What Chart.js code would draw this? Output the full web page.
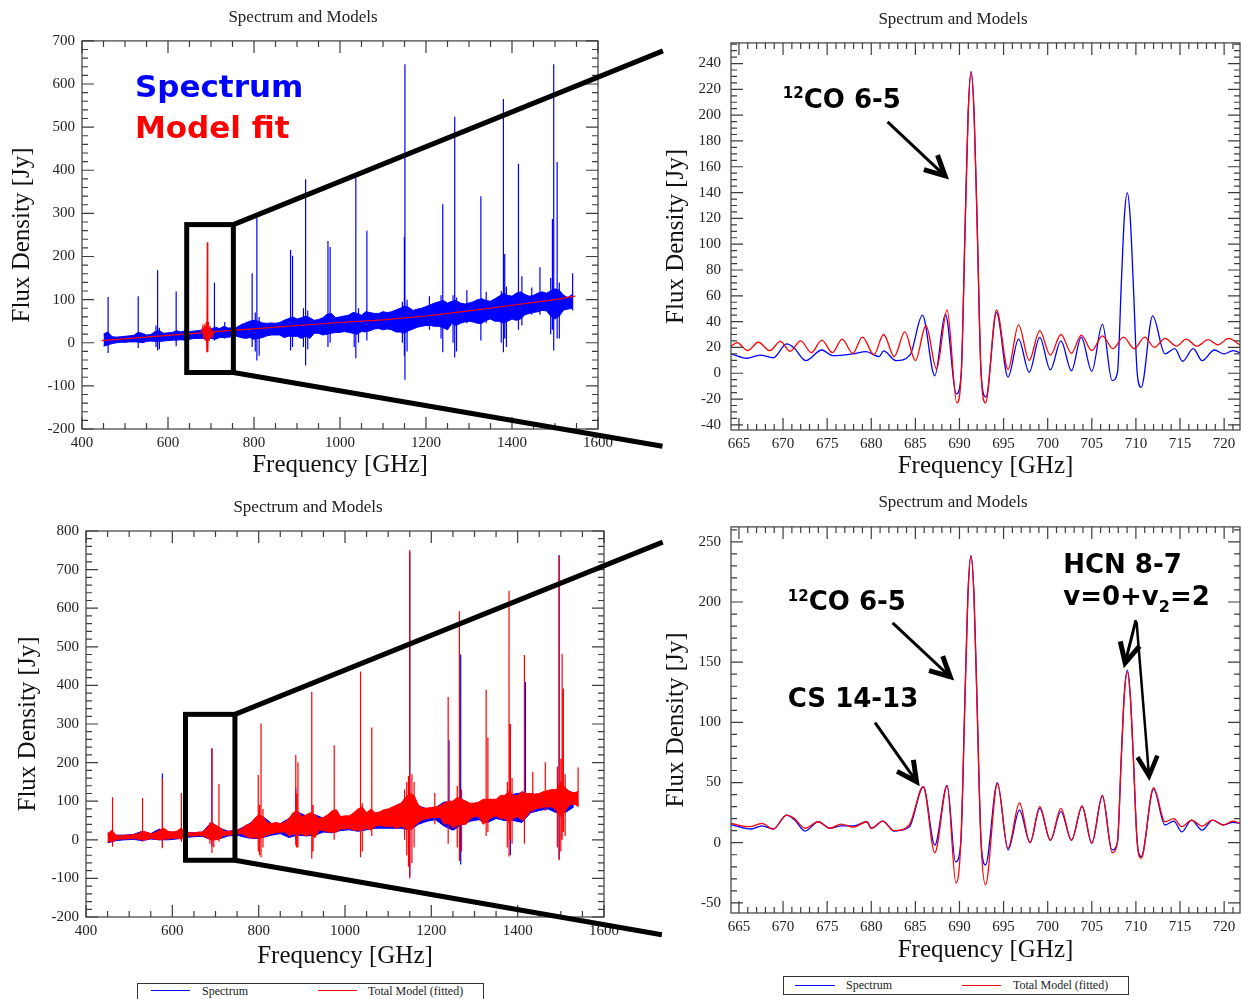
<!DOCTYPE html>
<html>
<head>
<meta charset="utf-8">
<title>Spectrum and Models</title>
<script src="https://cdn.jsdelivr.net/npm/chart.js@4.4.1/dist/chart.umd.min.js"></script>
<style>
  body { margin: 0; background: #fff; }
  #figure { position: relative; width: 1241px; height: 999px; overflow: hidden; background: #fff; }
  #figure canvas { position: absolute; }
  .legend { position: absolute; box-sizing: border-box; border: 1.5px solid #333; background: #fff;
            font: 12px "Liberation Serif", "Times New Roman", serif; color: #222; }
  .legend span { position: absolute; white-space: nowrap; line-height: 14px; }
  .legend i { position: absolute; height: 1px; }
</style>
</head>
<body>
<div id="figure">
  <canvas id="topLeft" width="620" height="480" style="left:0;top:0"></canvas>
  <canvas id="topRight" width="581" height="480" style="left:660px;top:0"></canvas>
  <canvas id="bottomLeft" width="630" height="480" style="left:0;top:490px"></canvas>
  <canvas id="bottomRight" width="581" height="480" style="left:660px;top:490px"></canvas>
  <canvas id="leads" width="1241" height="999" style="left:0;top:0;pointer-events:none"></canvas>

  <div class="legend" style="left:137px;top:983px;width:347px;height:24px">
    <i style="left:12.5px;top:5.5px;width:39px;background:#0000ff"></i>
    <span style="left:64px;top:0">Spectrum</span>
    <i style="left:179.5px;top:5.5px;width:39px;background:#ff0000"></i>
    <span style="left:230px;top:0">Total Model (fitted)</span>
  </div>
  <div class="legend" style="left:783px;top:976px;width:346px;height:19px">
    <i style="left:10.5px;top:7.5px;width:40px;background:#0000ff"></i>
    <span style="left:62px;top:1px">Spectrum</span>
    <i style="left:177.5px;top:7.5px;width:39px;background:#ff0000"></i>
    <span style="left:229px;top:1px">Total Model (fitted)</span>
  </div>
</div>

<script>
const BLUE = '#0000ff';
const RED = '#ff0000';
const SERIF = '"Liberation Serif", "Times New Roman", serif';

// ---- full band, spectrum as seen by the first pass (10 GHz bins from 450 GHz) ----
const tlSpecHi = [
  20, 25, 14, 13, 14, 15, 16, 17, 24, 22,
  18, 19, 26, 28, 22, 23, 24, 28, 25, 28,
  26, 27, 28, 30, 40, 32, 36, 33, 38, 34,
  35, 36, 42, 46, 50, 52, 50, 46, 45, 46,
  45, 47, 52, 56, 60, 55, 58, 62, 58, 52,
  54, 58, 66, 68, 58, 60, 62, 64, 70, 68,
  64, 72, 70, 68, 68, 72, 70, 72, 76, 80,
  85, 82, 75, 78, 80, 84, 88, 92, 95, 98,
  92, 96, 98, 92, 90, 92, 95, 100, 102, 98,
  96, 102, 108, 115, 110, 108, 115, 118, 112, 108,
  110, 115, 118, 115, 120, 125, 122, 110, 105, 112
];
const tlSpecLo = [
  -8, -5, -2, 0, 1, 1, 2, 2, 2, 0,
  3, 4, 3, 3, 4, 5, 6, 6, 7, 6,
  8, 10, 10, 10, 8, 10, 8, 12, 12, 13,
  14, 15, 12, 10, 12, 8, 10, 12, 16, 18,
  18, 18, 12, 15, 15, 15, 10, 15, 10, 22,
  22, 18, 20, 22, 24, 24, 26, 24, 22, 20,
  26, 25, 28, 32, 33, 30, 32, 30, 25, 25,
  22, 28, 32, 36, 38, 40, 40, 38, 38, 35,
  30, 45, 40, 45, 48, 50, 48, 45, 45, 52,
  55, 50, 50, 45, 50, 55, 52, 55, 65, 68,
  70, 72, 75, 74, 62, 55, 62, 76, 78, 80
];
const tlBinFreq = tlSpecHi.map((_, i) => 450 + 10 * i);
// emission lines and their ringing: [frequency, lowest, highest]
const tlSpecLines = [
  [460.7, -24, 106], [530.7, -12, 108], [572, -10, 40], [575.8, -18, 168], [580, -15, 35],
  [619, -8, 119], [708, 5, 140], [732, 10, 48], [795.7, -10, 161], [803, -20, 70],
  [806.7, -41, 290], [812, -30, 60], [885, -18, 215], [889.6, -10, 202], [915, -10, 80],
  [920, -53, 379], [925, -15, 75], [972, -10, 236], [977, 0, 222], [1033, -10, 70],
  [1036.8, -36, 384], [1043, 0, 80], [1062.5, 5, 260], [1145, 0, 95], [1149.7, -30, 245],
  [1151, -86, 646], [1156, -20, 100], [1208, 30, 108], [1235, 10, 110], [1239, -22, 321],
  [1263, 0, 110], [1266.8, -34, 524], [1271, -20, 105], [1295, 45, 122], [1327.6, 5, 340],
  [1340, 45, 118], [1375, 0, 120], [1380, -22, 565], [1383, 10, 206], [1387, -10, 130],
  [1415, 30, 415], [1423, 40, 154], [1446, 65, 128], [1465, 65, 175], [1490, 20, 150],
  [1494, 30, 287], [1497, -18, 646], [1505, 10, 419], [1510, 10, 140], [1541, 75, 161]
];
// continuum + CO 6-5 model
const tlModel = [
  [446, 5], [600, 17], [678, 23], [681, 38], [683, 10], [685, 42], [687, 5], [689, 48],
  [690.5, -22], [691.5, 233], [692.5, -22], [694, 48], [696, 5], [698, 38], [700, 12],
  [702, 32], [704, 18], [707, 26], [800, 32], [900, 40], [1000, 47], [1100, 53],
  [1200, 62], [1300, 74], [1400, 87], [1500, 100], [1547, 108]
];

// ---- full band, final fit (10 GHz bins from 450 GHz) ----
const blModelHi = [
  15, 25, 12, 10, 12, 12, 14, 15, 22, 20,
  16, 18, 25, 30, 22, 20, 22, 30, 22, 18,
  18, 20, 20, 30, 45, 38, 32, 22, 22, 24,
  26, 28, 38, 40, 55, 65, 60, 45, 42, 45,
  42, 45, 55, 70, 75, 60, 65, 70, 65, 55,
  58, 65, 75, 78, 60, 62, 62, 70, 80, 85,
  70, 80, 70, 72, 78, 80, 85, 90, 95, 110,
  120, 115, 90, 82, 82, 84, 85, 88, 95, 100,
  100, 110, 105, 100, 95, 95, 98, 105, 105, 105,
  105, 115, 115, 125, 115, 115, 125, 120, 120, 118,
  120, 125, 128, 130, 130, 150, 135, 125, 122, 125
];
const blModelLo = [
  -5, -5, 0, 2, 2, 3, 3, 2, 0, 0,
  4, 2, 0, 2, 2, 4, 4, 2, 8, 10,
  10, 11, 11, 5, 0, 0, 2, 12, 12, 14,
  15, 16, 10, 5, 5, 5, 8, 12, 16, 18,
  20, 20, 10, 15, 15, 15, 10, 15, 5, 25,
  25, 20, 20, 20, 28, 28, 30, 25, 25, 25,
  30, 25, 35, 38, 35, 35, 35, 30, 35, 30,
  25, 35, 45, 52, 55, 57, 58, 58, 40, 45,
  30, 40, 40, 40, 55, 60, 60, 40, 50, 58,
  62, 55, 55, 45, 55, 60, 50, 60, 75, 80,
  82, 85, 85, 85, 75, 60, 75, 90, 92, 88
];
const blModelFreq = blModelHi.map((_, i) => 450 + 10 * i);
const blModelLines = [
  [461.5, -18, 110], [531, -5, 108], [577, -22, 159], [621, -5, 121], [687, -10, 45],
  [691.7, -34, 238], [696, -20, 40], [708, -5, 144], [799, -30, 168], [802, -40, 90],
  [805.5, -45, 301], [810, -20, 80], [886, -15, 220], [888, -20, 120], [891, -20, 201],
  [923, -49, 383], [926, -30, 90], [975, 0, 245], [1036, -45, 436], [1040, -30, 95],
  [1062, 10, 291], [1138, 0, 130], [1143, -40, 150], [1147, -70, 165], [1150, -100, 751],
  [1155, -60, 170], [1160, -20, 150], [1208, 40, 121], [1239, -10, 370], [1260, -20, 140],
  [1265, -55, 592], [1270, -30, 130], [1327, 10, 389], [1331, 20, 265], [1376, -20, 150],
  [1380, -43, 645], [1383, 0, 300], [1387, -10, 160], [1415.6, -10, 479], [1435, 70, 176],
  [1464, 75, 201], [1492, -20, 190], [1496, -53, 735], [1500, -30, 210], [1503, 0, 482],
  [1506, 20, 392], [1510, 10, 170], [1540, 85, 187]
];
// observed spectrum under the fit (20 GHz bins from 450 GHz)
const blSpecHi = [
  18, 12, 12, 14, 22, 16, 28, 20, 20, 20,
  18, 20, 45, 30, 22, 25, 36, 50, 60, 42,
  42, 55, 72, 62, 65, 56, 70, 60, 60, 75,
  70, 68, 75, 82, 95, 118, 88, 80, 84, 98,
  98, 105, 92, 96, 105, 102, 115, 118, 122, 118,
  118, 126, 128, 132, 120
];
const blSpecLo = [
  -8, -2, 0, 1, -2, 2, 0, 0, 2, 6,
  8, 9, 0, 3, 10, 12, 6, 3, 6, 12,
  16, 6, 12, 10, 12, 20, 18, 24, 26, 22,
  26, 30, 30, 30, 30, 25, 40, 48, 52, 35,
  25, 38, 48, 52, 45, 55, 50, 50, 45, 70,
  76, 80, 70, 70, 85
];
const blSpecFreq = blSpecHi.map((_, i) => 450 + 20 * i);
const blSpecLines = [
  [577, -20, 172], [691.7, -16, 236], [886, 0, 133], [1150, -95, 745], [1241, 40, 258],
  [1268, -64, 480], [1383, -40, 300], [1418, 60, 409], [1496, -50, 738]
];

// ---- 664-722 GHz close-up, CO-only model ----
const trModel = [
  [664.1, 21], [664.8, 23.7], [666.0, 17.5], [667.2, 24], [668.5, 17.5], [669.7, 24.7],
  [670.8, 17], [672.0, 25], [673.2, 16], [674.4, 25.7], [675.6, 16], [676.7, 26.5],
  [677.9, 15.4], [679.0, 28], [680.3, 14.4], [681.4, 30], [682.6, 12.9], [683.8, 32],
  [685.0, 9.8], [686.2, 37], [687.4, 3.3], [688.6, 49], [689.7, -23], [690.2, 0],
  [690.65, 116], [690.98, 200], [691.32, 233], [691.66, 200], [692.0, 116], [692.45, 0],
  [692.95, -23], [694.2, 49], [695.5, 3], [696.7, 37.5], [697.9, 10], [699.1, 33],
  [700.3, 14], [701.5, 30], [702.7, 15.5], [703.8, 29.6], [705.0, 17.5], [706.2, 29],
  [707.4, 19], [708.6, 28], [709.8, 19], [711.0, 28], [712.1, 20], [713.3, 27],
  [714.6, 21], [715.7, 26.5], [716.9, 21], [718.2, 26], [719.3, 22], [720.5, 27], [721.8, 22]
];
const trSpectrum = [
  [664.1, 15], [665.9, 11.6], [667.4, 14], [668.9, 12], [670.4, 22.7], [671.2, 20],
  [672.6, 9.8], [674.4, 18], [675.6, 13.6], [677.9, 15], [679.4, 16.7], [680.9, 12.9],
  [681.4, 17.3], [682.8, 9.8], [684.4, 14.2], [685.8, 45], [687.2, -2], [688.4, 45.8],
  [689.65, -16], [690.2, 0], [690.65, 117], [690.98, 201], [691.32, 234], [691.66, 201],
  [692.0, 117], [692.45, 0], [693.0, -18.5], [694.2, 47], [695.5, -3], [696.7, 26.5],
  [697.9, 0.8], [699.1, 27.8], [700.3, 2.6], [701.5, 25], [702.7, 2], [703.8, 28],
  [705.0, 1.5], [706.2, 38], [707.3, -5.7], [707.9, 0], [708.35, 70], [708.68, 120],
  [709.02, 140], [709.36, 120], [709.7, 70], [710.15, 0], [710.6, -11], [711.9, 44.5],
  [713.3, 15], [714.4, 19], [715.3, 9.3], [716.5, 19], [717.5, 9.8], [718.9, 18],
  [720.0, 15], [721.0, 17.5], [721.8, 16]
];

// ---- 664-722 GHz close-up, total model ----
const brModel = [
  [664.1, 16], [666.2, 13.3], [667.6, 16], [668.9, 11.4], [670.4, 23], [671.3, 20],
  [672.5, 12], [674.0, 17.4], [675.3, 12], [676.6, 15.5], [678.0, 13], [679.5, 17.4],
  [680.0, 12], [681.3, 18], [682.6, 10], [684.3, 14.7], [685.9, 46.5], [687.2, -8.3],
  [688.6, 47], [689.6, -33.5], [690.15, 0], [690.62, 118], [690.95, 204], [691.3, 238],
  [691.65, 204], [691.98, 118], [692.45, 0], [692.95, -35], [694.3, 49], [695.5, -4.7],
  [696.8, 33], [698.0, 0], [699.1, 30], [700.3, 2], [701.5, 28.5], [702.7, 2],
  [703.9, 30.5], [705.0, -0.5], [706.2, 39.6], [707.3, -8.3], [707.9, 0], [708.35, 72],
  [708.68, 122], [709.02, 142], [709.36, 122], [709.7, 72], [710.15, 0], [710.6, -13],
  [712.0, 45.7], [713.3, 17.4], [714.3, 20], [715.2, 13.3], [716.3, 18.8], [717.5, 13.8],
  [718.7, 18.8], [719.9, 14.7], [721.0, 18], [721.8, 16]
];
const brSpectrum = [
  [664.1, 15], [666.4, 11.4], [667.6, 14], [668.9, 11.4], [670.4, 23], [671.3, 19],
  [672.5, 9.7], [674.0, 17.4], [675.3, 12], [676.6, 14], [678.0, 14], [679.5, 17.4],
  [680.0, 12], [681.3, 18], [682.6, 9.7], [684.3, 13], [685.9, 46.5], [687.2, -2],
  [688.6, 47.6], [689.55, -16], [690.15, 0], [690.62, 120], [690.95, 205], [691.3, 238.7],
  [691.65, 205], [691.98, 120], [692.45, 0], [692.95, -18.5], [694.3, 50], [695.5, -6],
  [696.8, 27], [698.0, 0], [699.1, 28.5], [700.3, 2], [701.5, 26], [702.7, 2],
  [703.9, 30], [705.0, -0.5], [706.2, 38.8], [707.3, -6], [707.9, 0], [708.35, 72],
  [708.68, 123], [709.02, 143.4], [709.36, 123], [709.7, 72], [710.15, 0], [710.6, -11.6],
  [712.0, 44.6], [713.3, 14.7], [714.3, 18], [715.2, 9], [716.3, 18.8], [717.5, 10.5],
  [718.7, 18.8], [719.9, 14.7], [721.0, 17], [721.8, 16]
];

// tick label values
const wideFreqTicks = [400, 600, 800, 1000, 1200, 1400, 1600];
const tlFluxTicks = [-200, -100, 0, 100, 200, 300, 400, 500, 600, 700];
const blFluxTicks = [-200, -100, 0, 100, 200, 300, 400, 500, 600, 700, 800];
const zoomFreqTicks = [665, 670, 675, 680, 685, 690, 695, 700, 705, 710, 715, 720];
const trFluxTicks = [-40, -20, 0, 20, 40, 60, 80, 100, 120, 140, 160, 180, 200, 220, 240];
const brFluxTicks = [-50, 0, 50, 100, 150, 200, 250];

const pts = list => list.map(([x, y]) => ({x, y}));
const band = (freq, vals) => freq.map((f, i) => ({x: f, y: vals[i]}));
// each line becomes a vertical stroke between its lowest and highest sample
function strokes(list) {
  const out = [];
  list.forEach(([f, low, high]) => out.push({x: f, y: low}, {x: f, y: high}, {x: f, y: null}));
  return out;
}

function drawArrow(ctx, x1, y1, x2, y2, w) {
  const ang = Math.atan2(y2 - y1, x2 - x1);
  const head = 22, spread = 0.47;
  ctx.strokeStyle = '#000';
  ctx.lineWidth = w;
  ctx.lineCap = 'butt';
  ctx.beginPath();
  ctx.moveTo(x1, y1);
  ctx.lineTo(x2, y2);
  ctx.stroke();
  ctx.lineWidth = w + 2;
  ctx.lineJoin = 'miter';
  ctx.beginPath();
  ctx.moveTo(x2 - head * Math.cos(ang - spread), y2 - head * Math.sin(ang - spread));
  ctx.lineTo(x2, y2);
  ctx.lineTo(x2 - head * Math.cos(ang + spread), y2 - head * Math.sin(ang + spread));
  ctx.stroke();
}

// box frame with inward ticks on all four sides
const frameTicks = {
  id: 'frameTicks',
  afterDatasetsDraw(chart, args, opts) {
    const {ctx, chartArea: a, scales: {x, y}} = chart;
    const isMajor = (v, step) => Math.abs(v / step - Math.round(v / step)) < 1e-6;
    ctx.save();
    ctx.strokeStyle = '#3c3c3c';
    ctx.lineWidth = 1.2;
    ctx.strokeRect(a.left, a.top, a.right - a.left, a.bottom - a.top);
    ctx.beginPath();
    const x0 = Math.ceil(x.min / opts.xMinor - 1e-9);
    for (let i = x0; i * opts.xMinor <= x.max + 1e-9; i++) {
      const v = i * opts.xMinor, px = x.getPixelForValue(v);
      const len = isMajor(v, opts.xMajor) ? 12 : 6;
      ctx.moveTo(px, a.bottom); ctx.lineTo(px, a.bottom - len);
      ctx.moveTo(px, a.top); ctx.lineTo(px, a.top + len);
    }
    const y0 = Math.ceil(y.min / opts.yMinor - 1e-9);
    for (let i = y0; i * opts.yMinor <= y.max + 1e-9; i++) {
      const v = i * opts.yMinor, py = y.getPixelForValue(v);
      const len = isMajor(v, opts.yMajor) ? 12 : 6;
      ctx.moveTo(a.left, py); ctx.lineTo(a.left + len, py);
      ctx.moveTo(a.right, py); ctx.lineTo(a.right - len, py);
    }
    ctx.stroke();
    ctx.restore();
  }
};

// line identifications and arrows, placed in data coordinates
const notes = {
  id: 'notes',
  afterDatasetsDraw(chart, args, opts) {
    const {ctx, scales: {x, y}} = chart;
    ctx.save();
    (opts.arrows || []).forEach(a => drawArrow(ctx,
      x.getPixelForValue(a.from[0]), y.getPixelForValue(a.from[1]),
      x.getPixelForValue(a.to[0]), y.getPixelForValue(a.to[1]), a.width || 3));
    (opts.labels || []).forEach(l => {
      let px = x.getPixelForValue(l.at[0]);
      const py = y.getPixelForValue(l.at[1]);
      ctx.fillStyle = l.color || '#000';
      ctx.textBaseline = 'alphabetic';
      ctx.textAlign = 'left';
      l.parts.forEach(p => {
        ctx.font = 'bold ' + p.size + 'px "DejaVu Sans", sans-serif';
        ctx.fillText(p.text, px, py + (p.dy || 0));
        px += ctx.measureText(p.text).width;
      });
    });
    ctx.restore();
  }
};

// zoom box and the two leader lines towards the close-up panel
const zoomLeads = {
  id: 'zoomLeads',
  afterDraw(chart, args, opts) {
    const {x, y} = chart.scales;
    const ox = chart.canvas.offsetLeft, oy = chart.canvas.offsetTop;
    const px = v => ox + x.getPixelForValue(v);
    const py = v => oy + y.getPixelForValue(v);
    const ctx = document.getElementById('leads').getContext('2d');
    const [f0, f1] = opts.freq, [v0, v1] = opts.flux;
    ctx.save();
    ctx.strokeStyle = '#000';
    ctx.lineWidth = 5;
    ctx.lineJoin = 'miter';
    ctx.strokeRect(px(f0), py(v1), px(f1) - px(f0), py(v0) - py(v1));
    ctx.beginPath();
    ctx.moveTo(px(f1), py(v1)); ctx.lineTo(px(opts.ends[0][0]), py(opts.ends[0][1]));
    ctx.moveTo(px(f1), py(v0)); ctx.lineTo(px(opts.ends[1][0]), py(opts.ends[1][1]));
    ctx.stroke();
    ctx.restore();
  }
};

function panel(id, o) {
  return new Chart(document.getElementById(id), {
    type: 'line',
    data: { datasets: o.datasets },
    options: {
      responsive: false,
      animation: false,
      events: [],
      layout: { padding: o.padding },
      elements: { point: { radius: 0 }, line: { borderWidth: 1.2 } },
      plugins: {
        legend: { display: false },
        tooltip: { enabled: false },
        title: {
          display: true, text: 'Spectrum and Models', color: '#222',
          font: { family: SERIF, size: 17, weight: 'normal', lineHeight: 1.2 },
          padding: o.titlePad
        },
        frameTicks: o.ticks,
        notes: o.notes,
        zoomLeads: o.leads
      },
      scales: {
        x: {
          type: 'linear', min: o.xRange[0], max: o.xRange[1],
          grid: { display: false, drawTicks: false }, border: { display: false },
          ticks: { font: { family: SERIF, size: 15 }, color: '#222', padding: 5,
                   maxRotation: 0, autoSkip: false, callback: v => String(v) },
          afterBuildTicks: s => { s.ticks = o.xTicks.map(v => ({value: v})); },
          afterFit: s => { s.height = o.xAxisH; },
          title: { display: true, text: 'Frequency [GHz]', color: '#111',
                   font: { family: SERIF, size: 25, lineHeight: 1 },
                   padding: { top: 0, bottom: o.xTitlePad } }
        },
        y: {
          type: 'linear', min: o.yRange[0], max: o.yRange[1],
          grid: { display: false, drawTicks: false }, border: { display: false },
          ticks: { font: { family: SERIF, size: 15 }, color: '#222', padding: o.yTickPad,
                   autoSkip: false, callback: v => String(v) },
          afterBuildTicks: s => { s.ticks = o.yTicks.map(v => ({value: v})); },
          afterFit: s => { s.width = o.yAxisW; },
          title: { display: true, text: 'Flux Density [Jy]', color: '#111',
                   font: { family: SERIF, size: 25, lineHeight: 0.85 },
                   padding: { top: o.yTitlePad, bottom: 0 } }
        }
      }
    },
    plugins: o.leads ? [frameTicks, notes, zoomLeads] : [frameTicks, notes]
  });
}

const wideTicks = { xMajor: 200, xMinor: 50, yMajor: 100, yMinor: 20 };

panel('topLeft', {
  padding: { left: 8, right: 22, top: 0, bottom: 0 },
  titlePad: { top: 7.5, bottom: 13 },
  xRange: [400, 1600], yRange: [-200, 700],
  xTicks: wideFreqTicks, yTicks: tlFluxTicks,
  xAxisH: 51, yAxisW: 74, xTitlePad: 2.5, yTitlePad: 4, yTickPad: 7,
  ticks: wideTicks,
  datasets: [
    { data: band(tlBinFreq, tlSpecHi), borderColor: BLUE, backgroundColor: BLUE, borderWidth: 1, fill: '+1', order: 3 },
    { data: band(tlBinFreq, tlSpecLo), borderColor: BLUE, borderWidth: 1, fill: false, order: 3 },
    { data: strokes(tlSpecLines), borderColor: BLUE, borderWidth: 1.2, fill: false, order: 2 },
    { data: pts(tlModel), borderColor: RED, borderWidth: 1.2, fill: false, order: 1 }
  ],
  notes: {
    labels: [
      { at: [523, 570], color: BLUE, parts: [{ text: 'Spectrum', size: 31 }] },
      { at: [523, 474], color: RED, parts: [{ text: 'Model fit', size: 31 }] }
    ]
  },
  leads: { freq: [643.5, 752], flux: [-69, 274], ends: [[1751, 677], [1750, -240]] }
});

panel('topRight', {
  padding: { left: 6, right: 1, top: 0, bottom: 0 },
  titlePad: { top: 9.5, bottom: 13 },
  xRange: [664.1, 721.8], yRange: [-44, 256],
  xTicks: zoomFreqTicks, yTicks: trFluxTicks,
  xAxisH: 50, yAxisW: 65, xTitlePad: 1.5, yTitlePad: 0, yTickPad: 10,
  ticks: { xMajor: 5, xMinor: 1, yMajor: 20, yMinor: 5 },
  datasets: [
    { data: pts(trModel), borderColor: RED, borderWidth: 1.3, cubicInterpolationMode: 'monotone', order: 1 },
    { data: pts(trSpectrum), borderColor: BLUE, borderWidth: 1.3, cubicInterpolationMode: 'monotone', order: 2 }
  ],
  notes: {
    labels: [
      { at: [669.98, 205.7], parts: [{ text: '12', size: 15, dy: -10 }, { text: 'CO 6-5', size: 26 }] }
    ],
    arrows: [ { from: [681.85, 194.8], to: [688.36, 153], width: 3 } ]
  }
});

panel('bottomLeft', {
  padding: { left: 12, right: 26, top: 0, bottom: 0 },
  titlePad: { top: 7.8, bottom: 12.8 },
  xRange: [400, 1600], yRange: [-200, 800],
  xTicks: wideFreqTicks, yTicks: blFluxTicks,
  xAxisH: 53, yAxisW: 74, xTitlePad: 1.5, yTitlePad: 6, yTickPad: 7,
  ticks: wideTicks,
  datasets: [
    { data: band(blModelFreq, blModelHi), borderColor: RED, backgroundColor: RED, borderWidth: 1, fill: '+1', order: 1 },
    { data: band(blModelFreq, blModelLo), borderColor: RED, borderWidth: 1, fill: false, order: 1 },
    { data: strokes(blModelLines), borderColor: RED, borderWidth: 1.2, fill: false, order: 1 },
    { data: band(blSpecFreq, blSpecHi), borderColor: BLUE, backgroundColor: BLUE, borderWidth: 1, fill: '+1', order: 2 },
    { data: band(blSpecFreq, blSpecLo), borderColor: BLUE, borderWidth: 1, fill: false, order: 2 },
    { data: strokes(blSpecLines), borderColor: BLUE, borderWidth: 1.2, fill: false, order: 2 }
  ],
  notes: {},
  leads: { freq: [630.5, 745], flux: [-53, 325], ends: [[1736, 771], [1734, -246]] }
});

panel('bottomRight', {
  padding: { left: 6, right: 1, top: 0, bottom: 0 },
  titlePad: { top: 2, bottom: 14.5 },
  xRange: [664.1, 721.8], yRange: [-58.4, 262.4],
  xTicks: zoomFreqTicks, yTicks: brFluxTicks,
  xAxisH: 57, yAxisW: 65, xTitlePad: 7.5, yTitlePad: 0, yTickPad: 10,
  ticks: { xMajor: 5, xMinor: 1, yMajor: 50, yMinor: 10 },
  datasets: [
    { data: pts(brModel), borderColor: RED, borderWidth: 1.3, cubicInterpolationMode: 'monotone', order: 1 },
    { data: pts(brSpectrum), borderColor: BLUE, borderWidth: 1.3, cubicInterpolationMode: 'monotone', order: 2 }
  ],
  notes: {
    labels: [
      { at: [670.54, 193.3], parts: [{ text: '12', size: 15, dy: -9 }, { text: 'CO 6-5', size: 26 }] },
      { at: [670.54, 112.7], parts: [{ text: 'CS 14-13', size: 26 }] },
      { at: [701.76, 224], parts: [{ text: 'HCN 8-7', size: 26 }] },
      { at: [701.76, 197.4], parts: [{ text: 'v=0+v', size: 26 }, { text: '2', size: 16, dy: 7 }, { text: '=2', size: 26 }] }
    ],
    arrows: [
      { from: [682.42, 182.7], to: [688.95, 137.9], width: 3 },
      { from: [680.43, 99.7], to: [685.13, 50.7], width: 3 },
      { from: [710.0, 185], to: [708.78, 149.5], width: 3 },
      { from: [710.08, 183.3], to: [711.49, 55.4], width: 2.5 }
    ]
  }
});
</script>
</body>
</html>
